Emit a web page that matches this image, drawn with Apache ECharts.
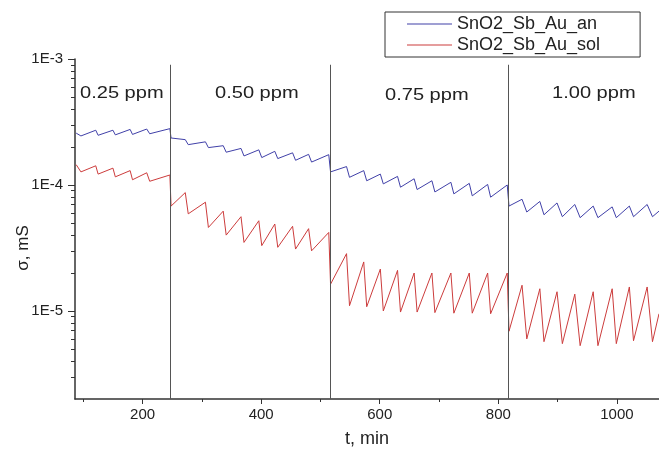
<!DOCTYPE html>
<html><head><meta charset="utf-8">
<script src="https://cdn.jsdelivr.net/npm/echarts@6/dist/echarts.min.js"></script>
<style>html,body{margin:0;padding:0;background:#fff}#c{width:659px;height:449px}</style>
</head><body><div id="c"></div>
<script>
// time stamps (min) of the turning points, shared by both samples
const timeMin = [
  88,96,121,125,150,154,179,183,207,212,246,248,
  272,277,306,311,336,341,366,371,396,401,423,428,453,458,480,485,514,517,
  544,549,573,578,601,606,630,635,658,663,688,693,720,725,751,756,782,787,815,818,
  840,848,870,877,899,908,929,938,960,968,992,999,1021,1028,1051,1060,1071
];
// conductance, mS
const anValues = [
  2.58e-4,2.45e-4,2.72e-4,2.48e-4,2.72e-4,2.5e-4,2.76e-4,2.52e-4,2.78e-4,2.55e-4,2.8e-4,2.36e-4,
  2.29e-4,2.09e-4,2.2e-4,1.98e-4,2.05e-4,1.82e-4,1.95e-4,1.7e-4,1.9e-4,1.65e-4,1.85e-4,1.62e-4,1.8e-4,1.57e-4,1.75e-4,1.52e-4,1.74e-4,1.27e-4,
  1.4e-4,1.15e-4,1.3e-4,1.08e-4,1.22e-4,1.02e-4,1.17e-4,9.6e-5,1.12e-4,9.2e-5,1.08e-4,8.8e-5,1.05e-4,8.5e-5,1.03e-4,8.2e-5,1.01e-4,8.0e-5,1.0e-4,6.8e-5,
  7.7e-5,6.1e-5,7.4e-5,5.8e-5,7.2e-5,5.6e-5,7.0e-5,5.5e-5,6.8e-5,5.5e-5,6.7e-5,5.5e-5,6.8e-5,5.6e-5,7.0e-5,5.6e-5,6.2e-5
];
const solValues = [
  1.45e-4,1.27e-4,1.42e-4,1.22e-4,1.36e-4,1.16e-4,1.3e-4,1.1e-4,1.25e-4,1.07e-4,1.2e-4,6.8e-5,
  8.7e-5,5.9e-5,7.3e-5,4.6e-5,6.2e-5,4.0e-5,5.6e-5,3.5e-5,5.2e-5,3.3e-5,4.9e-5,3.2e-5,4.7e-5,3.1e-5,4.5e-5,3.0e-5,4.2e-5,1.63e-5,
  2.85e-5,1.1e-5,2.45e-5,1.08e-5,2.15e-5,1.0e-5,2.1e-5,9.8e-6,2.0e-5,9.8e-6,2.0e-5,9.7e-6,2.0e-5,9.6e-6,2.0e-5,9.6e-6,2.0e-5,9.5e-6,2.0e-5,6.9e-6,
  1.6e-5,6.0e-6,1.5e-5,5.7e-6,1.42e-5,5.5e-6,1.36e-5,5.3e-6,1.42e-5,5.3e-6,1.5e-5,5.5e-6,1.55e-5,5.8e-6,1.55e-5,5.7e-6,9.5e-6
];
const seriesNames = ['SnO2_Sb_Au_an', 'SnO2_Sb_Au_sol'];
const switchTimes = [247, 517, 817];
const regionLabels = ['0.25 ppm', '0.50 ppm', '0.75 ppm', '1.00 ppm'];
const axisNames = ['t, min', 'σ, mS'];
const xMajorTicks = [200, 400, 600, 800, 1000];
const xMinorTicks = [100, 300, 500, 700, 900];
const yMajorTicks = [1e-5, 1e-4, 1e-3];
const yMinorTicks = [3e-6,4e-6,5e-6,6e-6,7e-6,8e-6,9e-6,
                     2e-5,3e-5,4e-5,5e-5,6e-5,7e-5,8e-5,9e-5,
                     2e-4,3e-4,4e-4,5e-4,6e-4,7e-4,8e-4,9e-4];

const X_MIN = 86, X_MAX = 1071, Y_MIN = 2e-6, Y_MAX = 1e-3, LINE_TOP = 9e-4;
const FONT = 'Liberation Sans, Arial, sans-serif';
const INK = '#222';

const chart = echarts.init(document.getElementById('c'), null, {renderer: 'canvas'});
const baseX = {type: 'value', min: X_MIN, max: X_MAX, splitLine: {show: false}, position: 'bottom'};
const baseY = {type: 'log', logBase: 10, min: Y_MIN, max: Y_MAX, splitLine: {show: false}, position: 'left'};

chart.setOption({
  animation: false,
  backgroundColor: '#fff',
  grid: {left: 75, right: 0, top: 59, bottom: 50, containLabel: false, outerBoundsMode: 'none'},
  legend: {
    orient: 'vertical', left: 385, top: 12,
    padding: [3, 40, 3, 22], itemGap: 3, itemWidth: 45, itemHeight: 1, icon: 'rect',
    borderColor: '#333', borderWidth: 1,
    textStyle: {fontSize: 18, color: INK, fontFamily: FONT},
    data: seriesNames
  },
  xAxis: [
    Object.assign({}, baseX, {
      name: axisNames[0], nameLocation: 'middle', nameGap: 31, nameMoveOverlap: false,
      nameTextStyle: {fontSize: 18, color: INK, fontFamily: FONT},
      axisLine: {show: true, lineStyle: {color: '#333', width: 1.5}},
      axisTick: {show: true, inside: false, length: 5, customValues: xMajorTicks, lineStyle: {color: '#333'}},
      axisLabel: {show: true, customValues: xMajorTicks, margin: 8, fontSize: 15, color: INK, fontFamily: FONT,
        formatter: v => String(v)}
    }),
    Object.assign({}, baseX, {
      axisLine: {show: false},
      axisTick: {show: true, inside: false, length: 3, customValues: xMinorTicks, lineStyle: {color: '#333'}},
      axisLabel: {show: false}
    })
  ],
  yAxis: [
    Object.assign({}, baseY, {
      axisLine: {show: true, lineStyle: {color: '#333', width: 1.5}},
      axisTick: {show: true, inside: false, length: 7, customValues: yMajorTicks, lineStyle: {color: '#333'}},
      axisLabel: {show: true, customValues: yMajorTicks, margin: 12, fontSize: 15, color: INK, fontFamily: FONT,
        formatter: v => '1E' + Math.round(Math.log10(v))}
    }),
    Object.assign({}, baseY, {
      axisLine: {show: false},
      axisTick: {show: true, inside: false, length: 4, customValues: yMinorTicks, lineStyle: {color: '#333'}},
      axisLabel: {show: false}
    })
  ],
  series: [
    {
      name: seriesNames[0], type: 'line', xAxisIndex: 0, yAxisIndex: 0,
      symbol: 'none', color: '#4040a8', lineStyle: {width: 1, color: '#4040a8'},
      data: timeMin.map((t, i) => [t, anValues[i]]),
      markLine: {
        silent: true, symbol: ['none', 'none'], label: {show: false},
        lineStyle: {color: '#555', width: 1, type: 'solid'},
        data: switchTimes.map(t => [{coord: [t, LINE_TOP]}, {coord: [t, Y_MIN]}])
      }
    },
    {
      name: seriesNames[1], type: 'line', xAxisIndex: 0, yAxisIndex: 0,
      symbol: 'none', color: '#cc3c3c', lineStyle: {width: 1, color: '#cc3c3c'},
      data: timeMin.map((t, i) => [t, solValues[i]])
    }
  ],
  graphic: [
    {type: 'text', x: 23, y: 248, rotation: Math.PI / 2,
      style: {text: axisNames[1], font: '17px ' + FONT, fill: INK, align: 'center', verticalAlign: 'middle'}},
    {type: 'text', x: 80, y: 85, scaleX: 1.18, style: {text: regionLabels[0], font: '17px ' + FONT, fill: INK}},
    {type: 'text', x: 215, y: 85, scaleX: 1.18, style: {text: regionLabels[1], font: '17px ' + FONT, fill: INK}},
    {type: 'text', x: 385, y: 87, scaleX: 1.18, style: {text: regionLabels[2], font: '17px ' + FONT, fill: INK}},
    {type: 'text', x: 552, y: 85, scaleX: 1.18, style: {text: regionLabels[3], font: '17px ' + FONT, fill: INK}}
  ]
});
</script></body></html>
